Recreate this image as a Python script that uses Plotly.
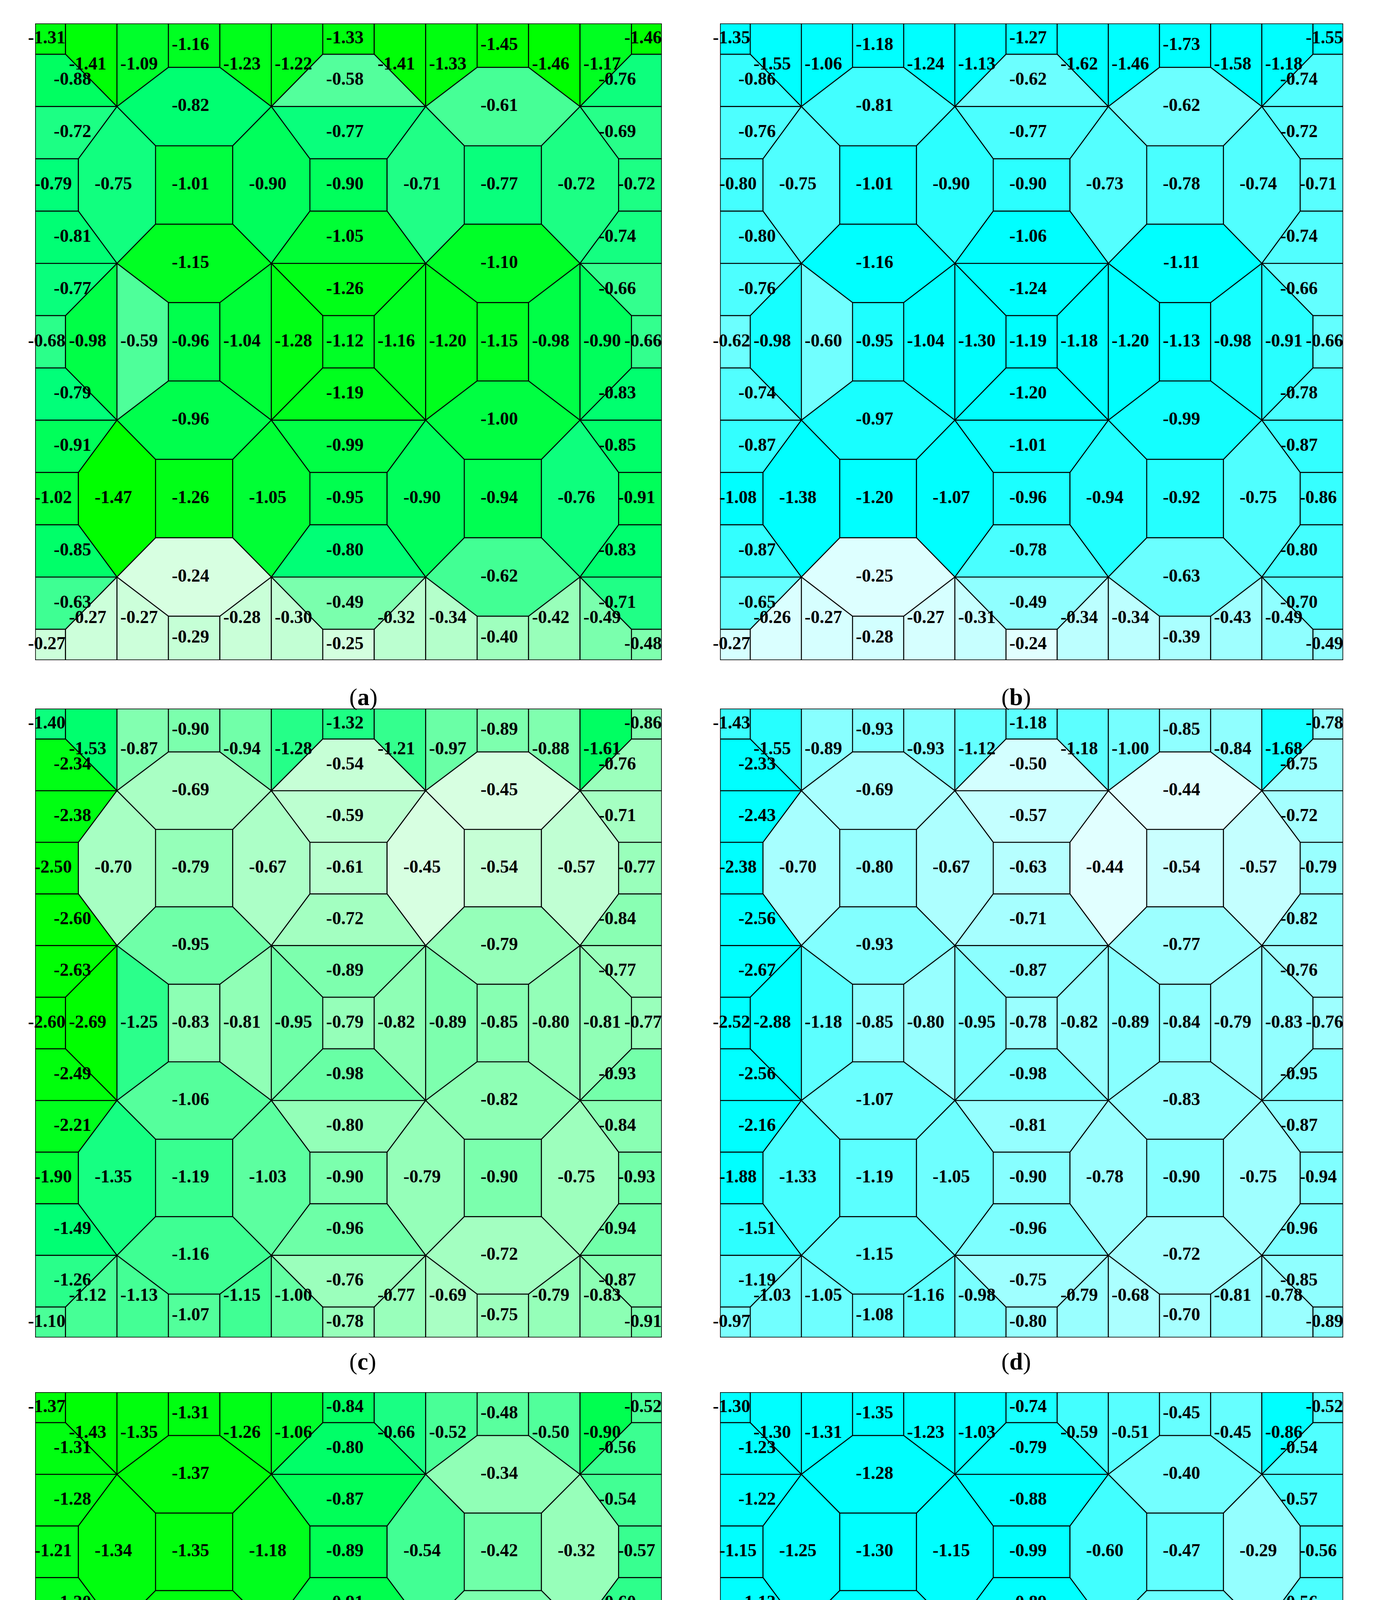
import plotly.graph_objects as go
from plotly.colors import sample_colorscale

# pressure coefficient values, read row by row (13 logical rows per panel)
full = list(range(13))
r_edge = [0, 6, 12]
r_oct_tb = [0, 3, 6, 9, 12]
r_oct_mid = [0, 2, 3, 4, 6, 8, 9, 10, 12]
ROW_COLS = [full, r_edge, r_oct_tb, r_oct_mid, r_oct_tb, r_edge, full,
            r_edge, r_oct_tb, r_oct_mid, r_oct_tb, r_edge, full]

panel_a = [
    [-1.31, -1.41, -1.09, -1.16, -1.23, -1.22, -1.33, -1.41, -1.33, -1.45, -1.46, -1.17, -1.46],
    [-0.88, -0.58, -0.76],
    [-0.72, -0.82, -0.77, -0.61, -0.69],
    [-0.79, -0.75, -1.01, -0.90, -0.90, -0.71, -0.77, -0.72, -0.72],
    [-0.81, -1.15, -1.05, -1.10, -0.74],
    [-0.77, -1.26, -0.66],
    [-0.68, -0.98, -0.59, -0.96, -1.04, -1.28, -1.12, -1.16, -1.20, -1.15, -0.98, -0.90, -0.66],
    [-0.79, -1.19, -0.83],
    [-0.91, -0.96, -0.99, -1.00, -0.85],
    [-1.02, -1.47, -1.26, -1.05, -0.95, -0.90, -0.94, -0.76, -0.91],
    [-0.85, -0.24, -0.80, -0.62, -0.83],
    [-0.63, -0.49, -0.71],
    [-0.27, -0.27, -0.27, -0.29, -0.28, -0.30, -0.25, -0.32, -0.34, -0.40, -0.42, -0.49, -0.48],
]
panel_b = [
    [-1.35, -1.55, -1.06, -1.18, -1.24, -1.13, -1.27, -1.62, -1.46, -1.73, -1.58, -1.18, -1.55],
    [-0.86, -0.62, -0.74],
    [-0.76, -0.81, -0.77, -0.62, -0.72],
    [-0.80, -0.75, -1.01, -0.90, -0.90, -0.73, -0.78, -0.74, -0.71],
    [-0.80, -1.16, -1.06, -1.11, -0.74],
    [-0.76, -1.24, -0.66],
    [-0.62, -0.98, -0.60, -0.95, -1.04, -1.30, -1.19, -1.18, -1.20, -1.13, -0.98, -0.91, -0.66],
    [-0.74, -1.20, -0.78],
    [-0.87, -0.97, -1.01, -0.99, -0.87],
    [-1.08, -1.38, -1.20, -1.07, -0.96, -0.94, -0.92, -0.75, -0.86],
    [-0.87, -0.25, -0.78, -0.63, -0.80],
    [-0.65, -0.49, -0.70],
    [-0.27, -0.26, -0.27, -0.28, -0.27, -0.31, -0.24, -0.34, -0.34, -0.39, -0.43, -0.49, -0.49],
]
panel_c = [
    [-1.40, -1.53, -0.87, -0.90, -0.94, -1.28, -1.32, -1.21, -0.97, -0.89, -0.88, -1.61, -0.86],
    [-2.34, -0.54, -0.76],
    [-2.38, -0.69, -0.59, -0.45, -0.71],
    [-2.50, -0.70, -0.79, -0.67, -0.61, -0.45, -0.54, -0.57, -0.77],
    [-2.60, -0.95, -0.72, -0.79, -0.84],
    [-2.63, -0.89, -0.77],
    [-2.60, -2.69, -1.25, -0.83, -0.81, -0.95, -0.79, -0.82, -0.89, -0.85, -0.80, -0.81, -0.77],
    [-2.49, -0.98, -0.93],
    [-2.21, -1.06, -0.80, -0.82, -0.84],
    [-1.90, -1.35, -1.19, -1.03, -0.90, -0.79, -0.90, -0.75, -0.93],
    [-1.49, -1.16, -0.96, -0.72, -0.94],
    [-1.26, -0.76, -0.87],
    [-1.10, -1.12, -1.13, -1.07, -1.15, -1.00, -0.78, -0.77, -0.69, -0.75, -0.79, -0.83, -0.91],
]
panel_d = [
    [-1.43, -1.55, -0.89, -0.93, -0.93, -1.12, -1.18, -1.18, -1.00, -0.85, -0.84, -1.68, -0.78],
    [-2.33, -0.50, -0.75],
    [-2.43, -0.69, -0.57, -0.44, -0.72],
    [-2.38, -0.70, -0.80, -0.67, -0.63, -0.44, -0.54, -0.57, -0.79],
    [-2.56, -0.93, -0.71, -0.77, -0.82],
    [-2.67, -0.87, -0.76],
    [-2.52, -2.88, -1.18, -0.85, -0.80, -0.95, -0.78, -0.82, -0.89, -0.84, -0.79, -0.83, -0.76],
    [-2.56, -0.98, -0.95],
    [-2.16, -1.07, -0.81, -0.83, -0.87],
    [-1.88, -1.33, -1.19, -1.05, -0.90, -0.78, -0.90, -0.75, -0.94],
    [-1.51, -1.15, -0.96, -0.72, -0.96],
    [-1.19, -0.75, -0.85],
    [-0.97, -1.03, -1.05, -1.08, -1.16, -0.98, -0.80, -0.79, -0.68, -0.70, -0.81, -0.78, -0.89],
]
panel_e = [
    [-1.37, -1.43, -1.35, -1.31, -1.26, -1.06, -0.84, -0.66, -0.52, -0.48, -0.50, -0.90, -0.52],
    [-1.31, -0.80, -0.56],
    [-1.28, -1.37, -0.87, -0.34, -0.54],
    [-1.21, -1.34, -1.35, -1.18, -0.89, -0.54, -0.42, -0.32, -0.57],
    [-1.20, -1.34, -0.91, -0.39, -0.60],
    [-1.18, -0.93, -0.50],
    [-1.14, -1.26, -1.34, -1.26, -1.02, -1.11, -0.79, -0.61, -0.50, -0.36, -0.27, -0.31, -0.50],
    [-1.14, -0.93, -0.65],
    [-1.20, -1.29, -0.71, -0.32, -0.53],
    [-1.30, -1.48, -1.29, -1.11, -0.79, -0.39, -0.34, -0.14, -0.63],
    [-1.28, -1.27, -0.71, -0.12, -0.61],
    [-1.36, -0.63, -0.54],
    [-1.39, -1.40, -1.41, -1.15, -1.42, -0.88, -0.52, -0.40, -0.29, -0.29, -0.35, -0.41, -0.59],
]
panel_f = [
    [-1.30, -1.30, -1.31, -1.35, -1.23, -1.03, -0.74, -0.59, -0.51, -0.45, -0.45, -0.86, -0.52],
    [-1.23, -0.79, -0.54],
    [-1.22, -1.28, -0.88, -0.40, -0.57],
    [-1.15, -1.25, -1.30, -1.15, -0.99, -0.60, -0.47, -0.29, -0.56],
    [-1.13, -1.34, -0.89, -0.44, -0.56],
    [-1.18, -1.00, -0.50],
    [-1.07, -1.24, -1.36, -1.20, -0.98, -1.13, -0.82, -0.74, -0.63, -0.41, -0.28, -0.29, -0.50],
    [-1.08, -1.07, -0.62],
    [-1.20, -1.21, -0.84, -0.34, -0.52],
    [-1.22, -1.43, -1.27, -1.16, -0.77, -0.51, -0.34, -0.21, -0.62],
    [-1.25, -1.28, -0.75, -0.08, -0.61],
    [-1.25, -0.67, -0.54],
    [-1.21, -1.23, -1.37, -1.11, -1.33, -0.90, -0.42, -0.44, -0.21, -0.24, -0.28, -0.40, -0.62],
]

labels = ['a', 'b', 'c', 'd', 'e', 'f']
panels = [panel_a, panel_b, panel_c, panel_d, panel_e, panel_f]

GREEN = [[0, 'rgb(0,255,0)'], [0.3, 'rgb(0,255,40)'], [0.55, 'rgb(0,255,120)'],
         [0.7, 'rgb(70,255,150)'], [0.85, 'rgb(150,255,185)'], [1, 'rgb(215,255,225)']]
CYAN = [[0, 'rgb(0,255,255)'], [0.45, 'rgb(0,255,255)'], [0.6, 'rgb(60,255,255)'],
        [0.75, 'rgb(110,255,255)'], [0.9, 'rgb(170,255,255)'], [1, 'rgb(225,255,255)']]
scales = [GREEN, CYAN, GREEN, CYAN, GREEN, CYAN]

# geometry (units of one grid cell)
M = 0.59
C = [3.09, 9.09]
MID = 6.09
L = 12.18
E = 3.09

LEFT = [
    [(-E, -2.5), (-2.5, -2.5), (-1.5, -1.5), (-E, -1.5)],
    [(-E, -1.5), (-1.5, -1.5), (-2.25, -0.5), (-E, -0.5)],
    [(-E, -0.5), (-2.25, -0.5), (-2.25, 0.5), (-E, 0.5)],
    [(-E, 0.5), (-2.25, 0.5), (-1.5, 1.5), (-E, 1.5)],
    [(-E, 1.5), (-1.5, 1.5), (-2.5, 2.5), (-E, 2.5)],
]
MIDC = [
    [(-0.5, -2.5), (0.5, -2.5), (1.5, -1.5), (-1.5, -1.5)],
    [(-1.5, -1.5), (1.5, -1.5), (0.75, -0.5), (-0.75, -0.5)],
    [(-0.75, -0.5), (0.75, -0.5), (0.75, 0.5), (-0.75, 0.5)],
    [(-0.75, 0.5), (0.75, 0.5), (1.5, 1.5), (-1.5, 1.5)],
    [(-1.5, 1.5), (1.5, 1.5), (0.5, 2.5), (-0.5, 2.5)],
]
TOP = [(-0.75, -0.75), (0.75, -0.75), (1.5, -1.5), (0.5, -2.25), (-0.5, -2.25), (-1.5, -1.5)]
SQ = [(-0.75, -0.75), (0.75, -0.75), (0.75, 0.75), (-0.75, 0.75)]


def box(x0, x1, y0, y1):
    return [(x0, y0), (x1, y0), (x1, y1), (x0, y1)]


def cell_poly(r, c):
    if r in (0, 12) and c in (0, 12):
        xs = (0, M) if c == 0 else (L - M, L)
        ys = (0, M) if r == 0 else (L - M, L)
        return box(xs[0], xs[1], ys[0], ys[1])
    if c in (0, 12):
        if r == 6:
            p = box(0, M, MID - 0.5, MID + 0.5)
        else:
            oy = C[0] if r < 6 else C[1]
            i = r - 1 if r < 6 else r - 7
            p = [(C[0] + dx, oy + dy) for dx, dy in LEFT[i]]
        return p if c == 0 else [(L - x, y) for x, y in p]
    if r in (0, 12):
        if c == 6:
            p = box(MID - 0.5, MID + 0.5, 0, M)
        else:
            ox = C[0] if c < 6 else C[1]
            i = c - 1 if c < 6 else c - 7
            p = [(ox + dy, C[0] + dx) for dx, dy in LEFT[i]]
        return p if r == 0 else [(x, L - y) for x, y in p]
    if c == 6:
        if r == 6:
            return box(MID - 0.5, MID + 0.5, MID - 0.5, MID + 0.5)
        oy = C[0] if r < 6 else C[1]
        i = r - 1 if r < 6 else r - 7
        return [(MID + dx, oy + dy) for dx, dy in MIDC[i]]
    if r == 6:
        ox = C[0] if c < 6 else C[1]
        i = c - 1 if c < 6 else c - 7
        return [(ox + dy, MID + dx) for dx, dy in MIDC[i]]
    oy = C[0] if r < 6 else C[1]
    ox = C[0] if c < 6 else C[1]
    lr = r - (3 if r < 6 else 9)
    lc = c - (3 if c < 6 else 9)
    if lr == 0 and lc == 0:
        p = SQ
    elif lr == -1:
        p = TOP
    elif lr == 1:
        p = [(x, -y) for x, y in TOP]
    elif lc == -1:
        p = [(y, x) for x, y in TOP]
    else:
        p = [(-y, x) for x, y in TOP]
    return [(ox + x, oy + y) for x, y in p]


W, H = 3522, 5315
col_px = [(82, 1686), (1835, 3430)]
row_px = [(52, 1682), (1806, 3416), (3556, 5167)]
cap_y = [1740, 3478, 5219]

fig = go.Figure()
layout = dict(width=W, height=H, margin=dict(l=0, r=0, t=0, b=0),
              plot_bgcolor='white', paper_bgcolor='white', showlegend=False)
annotations = []
shapes = []

for k, (vals, lab, cs) in enumerate(zip(panels, labels, scales)):
    ri, ci = k // 2, k % 2
    ax = '' if k == 0 else str(k + 1)
    xref, yref = 'x' + ax, 'y' + ax
    x0, x1 = col_px[ci]
    y0, y1 = row_px[ri]
    layout['xaxis' + ax] = dict(domain=[x0 / W, x1 / W], range=[0, L], visible=False,
                                fixedrange=True)
    layout['yaxis' + ax] = dict(domain=[1 - y1 / H, 1 - y0 / H], range=[L, 0], visible=False,
                                fixedrange=True)
    flat = [v for row in vals for v in row]
    vmin, vmax = min(flat), max(flat)
    tx, ty, tt = [], [], []
    for r, row in enumerate(vals):
        for c, v in zip(ROW_COLS[r], row):
            poly = cell_poly(r, c)
            u = (v - vmin) / (vmax - vmin)
            color = sample_colorscale(cs, [u])[0]
            px_ = [p[0] for p in poly] + [poly[0][0]]
            py_ = [p[1] for p in poly] + [poly[0][1]]
            fig.add_trace(go.Scatter(x=px_, y=py_, mode='lines', fill='toself',
                                     fillcolor=color, line=dict(color='black', width=2.5),
                                     hoverinfo='skip', xaxis=xref, yaxis=yref))
            tx.append((min(px_) + max(px_)) / 2 - 0.07)
            ty.append((min(py_) + max(py_)) / 2)
            tt.append('<b>%.2f</b>' % v)
    fig.add_trace(go.Scatter(x=tx, y=ty, text=tt, mode='text', cliponaxis=False,
                             textfont=dict(family='Liberation Serif', size=46, color='black'),
                             hoverinfo='skip', xaxis=xref, yaxis=yref))
    shapes.append(dict(type='rect', xref=xref, yref=yref, x0=0, x1=L, y0=0, y1=L,
                       line=dict(color='black', width=3)))
    annotations.append(dict(text='(<b>%s</b>)' % lab, x=(x0 + x1) / 2 / W, y=1 - cap_y[ri] / H,
                            xref='paper', yref='paper', showarrow=False,
                            font=dict(family='Liberation Serif', size=62, color='black')))

layout['annotations'] = annotations
layout['shapes'] = shapes
fig.update_layout(**layout)
fig.write_html("out.html")
